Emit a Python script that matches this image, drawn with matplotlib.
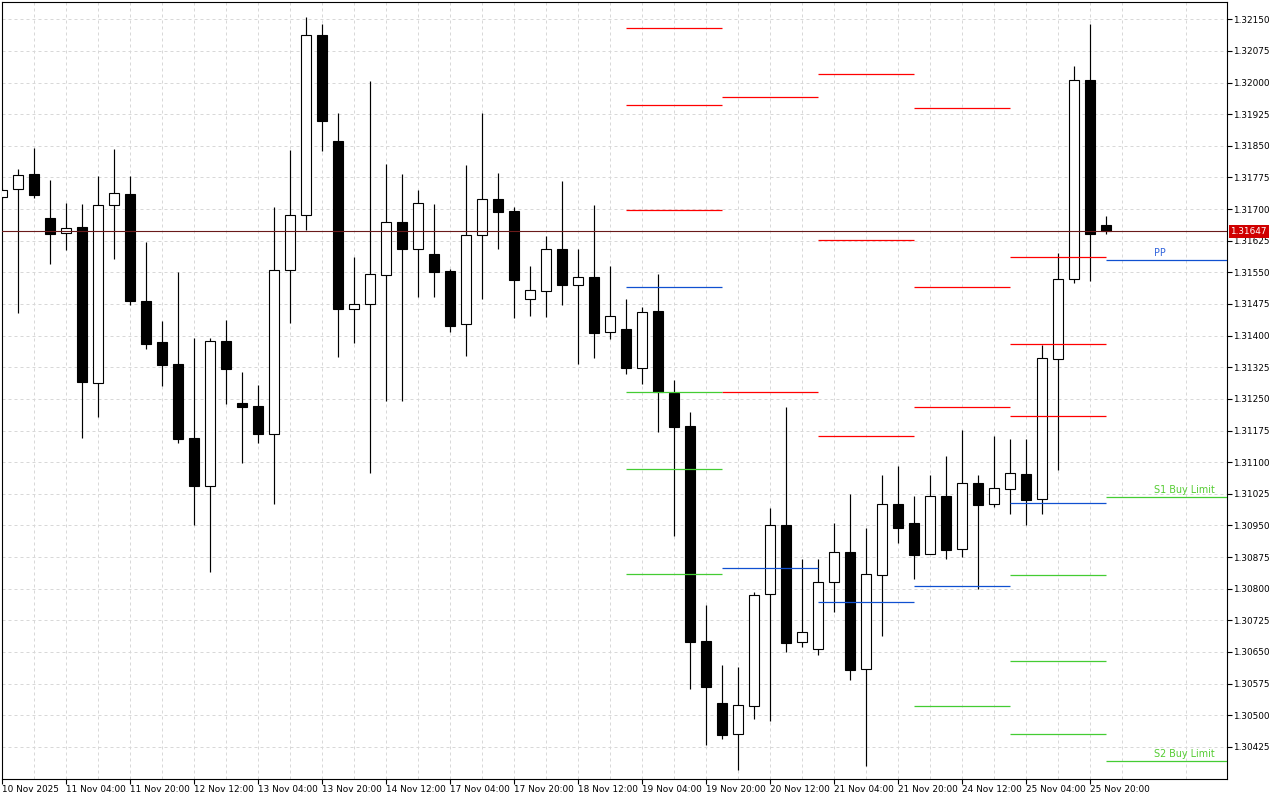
import matplotlib
matplotlib.use("Agg")
import matplotlib.pyplot as plt
import numpy as np
from matplotlib.transforms import blended_transform_factory

# ---------------- data (H4 candles) ----------------
opens = [1.31728, 1.31747, 1.31783, 1.31679, 1.31643, 1.31658, 1.31288, 1.31709, 1.31736, 1.31482,
         1.31385, 1.31332, 1.31157, 1.31044, 1.31387, 1.31240, 1.31233, 1.31166, 1.31555, 1.31685,
         1.32113, 1.31861, 1.31462, 1.31474, 1.31543, 1.31669, 1.31605, 1.31594, 1.31553, 1.31427,
         1.31638, 1.31723, 1.31695, 1.31486, 1.31505, 1.31605, 1.31521, 1.31539, 1.31408, 1.31416,
         1.31323, 1.31458, 1.31265, 1.31186, 1.30676, 1.30529, 1.30455, 1.30522, 1.30787, 1.30950,
         1.30673, 1.30656, 1.30817, 1.30887, 1.30609, 1.30832, 1.31000, 1.30955, 1.30882, 1.31019,
         1.30893, 1.31050, 1.31000, 1.31036, 1.31072, 1.31012, 1.31344, 1.31534, 1.32005, 1.31662]
highs = [1.31750, 1.31795, 1.31845, 1.31769, 1.31714, 1.31712, 1.31778, 1.31842, 1.31778, 1.31622,
         1.31435, 1.31551, 1.31394, 1.31394, 1.31436, 1.31313, 1.31282, 1.31704, 1.31840, 1.32155,
         1.32139, 1.31928, 1.31586, 1.32004, 1.31807, 1.31783, 1.31745, 1.31712, 1.31558, 1.31805,
         1.31928, 1.31786, 1.31705, 1.31565, 1.31636, 1.31767, 1.31606, 1.31710, 1.31565, 1.31487,
         1.31468, 1.31546, 1.31295, 1.31219, 1.30761, 1.30619, 1.30614, 1.30792, 1.30992, 1.31231,
         1.30870, 1.30870, 1.30956, 1.31024, 1.30944, 1.31069, 1.31091, 1.31020, 1.31069, 1.31115,
         1.31176, 1.31069, 1.31162, 1.31155, 1.31155, 1.31378, 1.31595, 1.32039, 1.32139, 1.31684]
lows = [1.31724, 1.31453, 1.31727, 1.31571, 1.31604, 1.31158, 1.31208, 1.31582, 1.31473, 1.31368,
        1.31281, 1.31146, 1.30952, 1.30840, 1.31239, 1.31099, 1.31146, 1.31001, 1.31431, 1.31651,
        1.31838, 1.31350, 1.31383, 1.31075, 1.31246, 1.31246, 1.31492, 1.31492, 1.31409, 1.31352,
        1.31488, 1.31606, 1.31442, 1.31447, 1.31445, 1.31473, 1.31333, 1.31348, 1.31393, 1.31310,
        1.31286, 1.31172, 1.30926, 1.30563, 1.30430, 1.30444, 1.30370, 1.30492, 1.30487, 1.30651,
        1.30662, 1.30643, 1.30744, 1.30584, 1.30380, 1.30689, 1.30909, 1.30824, 1.30882, 1.30871,
        1.30874, 1.30799, 1.30994, 1.30978, 1.30952, 1.30976, 1.31081, 1.31524, 1.31530, 1.31642]
closes = [1.31745, 1.31780, 1.31734, 1.31642, 1.31656, 1.31291, 1.31709, 1.31737, 1.31483, 1.31381,
          1.31331, 1.31156, 1.31044, 1.31387, 1.31322, 1.31231, 1.31167, 1.31555, 1.31685, 1.32112,
          1.31910, 1.31462, 1.31474, 1.31545, 1.31669, 1.31606, 1.31714, 1.31552, 1.31424, 1.31638,
          1.31723, 1.31694, 1.31533, 1.31507, 1.31605, 1.31521, 1.31538, 1.31406, 1.31446, 1.31324,
          1.31455, 1.31266, 1.31184, 1.30674, 1.30568, 1.30454, 1.30524, 1.30785, 1.30950, 1.30672,
          1.30697, 1.30815, 1.30886, 1.30608, 1.30836, 1.31000, 1.30945, 1.30881, 1.31019, 1.30892,
          1.31050, 1.30999, 1.31038, 1.31074, 1.31011, 1.31346, 1.31534, 1.32005, 1.31642, 1.31647]

last_price = 1.31647

time_labels = ["10 Nov 2025", "11 Nov 04:00", "11 Nov 20:00", "12 Nov 12:00", "13 Nov 04:00",
               "13 Nov 20:00", "14 Nov 12:00", "17 Nov 04:00", "17 Nov 20:00", "18 Nov 12:00",
               "19 Nov 04:00", "19 Nov 20:00", "20 Nov 12:00", "21 Nov 04:00", "21 Nov 20:00",
               "24 Nov 12:00", "25 Nov 04:00", "25 Nov 20:00"]
label_every = 4  # candles between time labels

price_ticks = [1.30425, 1.30500, 1.30575, 1.30650, 1.30725, 1.30800, 1.30875, 1.30950,
               1.31025, 1.31100, 1.31175, 1.31250, 1.31325, 1.31400, 1.31475, 1.31550,
               1.31625, 1.31700, 1.31775, 1.31850, 1.31925, 1.32000, 1.32075, 1.32150]

# daily pivot levels (candle index where each day's levels start; NaN = off chart)
nan = float("nan")
pivot_day_start = [39, 45, 51, 57, 63, 69]
R3 = [1.32129, nan, 1.32020, 1.31939, 1.31586, nan]
R2 = [1.31946, 1.31965, 1.31627, 1.31515, 1.31379, nan]
R1 = [1.31697, 1.31266, 1.31162, 1.31230, 1.31209, nan]
PP = [1.31515, 1.30848, 1.30768, 1.30806, 1.31002, 1.31579]
S1 = [1.31266, nan, nan, 1.30522, 1.30832, 1.31017]
S2 = [1.31083, nan, nan, nan, 1.30628, 1.30391]
S3 = [1.30835, nan, nan, nan, 1.30455, nan]

# ---------------- figure ----------------
W, H = 1280, 800
fig = plt.figure(figsize=(W / 100, H / 100), dpi=100)
ax = fig.add_axes([2 / W, 21 / H, 1225 / W, 777 / H])

n = len(opens)
x = np.arange(n)
o = np.array(opens); c = np.array(closes)
hi = np.array(highs); lo = np.array(lows)

x_right = -0.019 + 1225 / 16.0
ax.set_xlim(-0.019, x_right)
ax.set_ylim(1.303488, 1.32191)

grid_kw = dict(color="#d8d8d8", lw=0.72, ls=(0, (3, 3)))
ax.set_axisbelow(True)

# candles
ax.vlines(x, lo, hi, color="black", lw=0.85, zorder=2)
up = c >= o
face = ["white" if u else "black" for u in up]
ax.bar(x, np.maximum(np.abs(c - o), 0.000015), bottom=np.minimum(o, c), width=0.64,
       color=face, edgecolor="black", linewidth=0.8, zorder=3)

# pivot segments
ends = pivot_day_start[1:] + [x_right]
level_sets = [(R3, "#ff0000"), (R2, "#ff0000"), (R1, "#ff0000"), (PP, "#1050d0"),
              (S1, "#44cc33"), (S2, "#44cc33"), (S3, "#44cc33")]
for vals, col in level_sets:
    for s, e, v in zip(pivot_day_start, ends, vals):
        if not np.isnan(v):
            ax.hlines(v, s, e, color=col, lw=0.9, zorder=4)

# labels for the current day's levels
lab_kw = dict(textcoords="offset points", ha="center", va="bottom", fontsize=6.9, zorder=6)
ax.annotate("PP", xy=(72.37, PP[-1]), xytext=(0, 1.3), color="#3366dd", **lab_kw)
ax.annotate("S1 Buy Limit", xy=(73.85, S1[-1]), xytext=(0, 1.3), color="#55cc33", **lab_kw)
ax.annotate("S2 Buy Limit", xy=(73.85, S2[-1]), xytext=(0, 1.3), color="#55cc33", **lab_kw)

# last price line
ax.axhline(last_price, color="#6a1a1a", lw=0.8, zorder=5)

# axes / ticks
ax.yaxis.tick_right()
ax.set_yticks(price_ticks)
ax.set_yticklabels([f"{p:.5f}" for p in price_ticks])
major_x = np.arange(0, len(time_labels) * label_every, label_every)
ax.set_xticks(major_x)
ax.set_xticklabels(time_labels)
ax.set_xticks(np.arange(2, n + 8, label_every), minor=True)
for lbl in ax.get_xticklabels():
    lbl.set_horizontalalignment("left")
ax.tick_params(axis="x", which="major", direction="out", length=3.5, width=0.8, pad=0.5,
               labelsize=6.4, colors="black")
ax.tick_params(axis="x", which="minor", length=0)
ax.tick_params(axis="y", direction="out", length=3.5, width=0.8, pad=1.2, labelsize=6.4)
ax.grid(True, which="both", axis="x", **grid_kw)
ax.grid(True, which="major", axis="y", **grid_kw)
for sp in ax.spines.values():
    sp.set_color("black")
    sp.set_linewidth(0.8)

# last price tag on the axis
trans = blended_transform_factory(ax.transAxes, ax.transData)
ax.text(1.0 + 3.5 / 1225, last_price, f"{last_price:.5f}", transform=trans, ha="left",
        va="center", fontsize=6.4, color="white", clip_on=False, zorder=10,
        bbox=dict(boxstyle="square,pad=0.18", fc="#d00000", ec="none"))

fig.savefig("out.png", dpi=100)
